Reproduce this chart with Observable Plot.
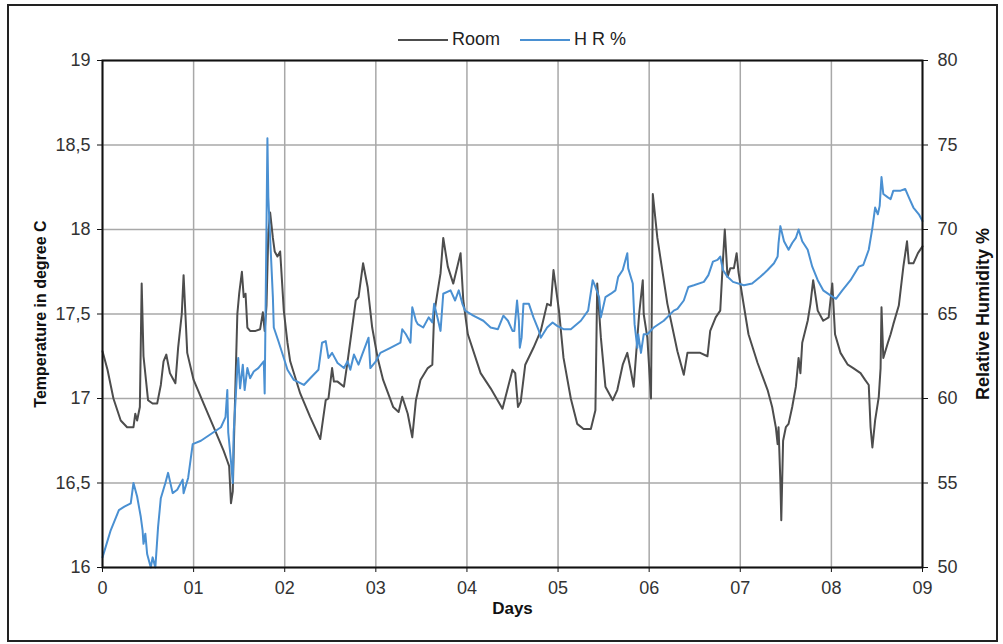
<!DOCTYPE html>
<html><head><meta charset="utf-8">
<script src="https://cdn.jsdelivr.net/npm/d3@7"></script>
<script src="https://cdn.jsdelivr.net/npm/@observablehq/plot@0.6"></script>
<style>
body{margin:0;background:#fff;font-family:"Liberation Sans",Arial,sans-serif;}
#wrap{position:relative;width:1003px;height:644px;overflow:hidden;background:#fff;}
#border{position:absolute;left:7px;top:4px;width:987px;height:634px;border:2px solid #222;}
#legend{position:absolute;top:29px;left:398px;display:flex;align-items:center;font-size:18px;color:#222;white-space:nowrap;}
.sw{display:inline-block;width:50px;height:2px;margin-right:4px;}
#chart{position:absolute;left:0;top:0;}
</style></head><body>
<div id="wrap"><div id="border"></div><div id="chart"></div>
<div id="legend"><span class="sw" style="background:#4d4d4d"></span><span>Room</span><span class="sw" style="background:#4a90d2;margin-left:20px"></span><span>H R %</span></div>
</div>
<script>
const roomDay = [0.00,0.055,0.12,0.20,0.27,0.34,0.36,0.38,0.41,0.43,0.45,0.50,0.55,0.60,0.64,0.67,0.70,0.74,0.77,0.80,0.83,0.87,0.89,0.91,0.93,1.00,1.11,1.22,1.33,1.37,1.39,1.41,1.43,1.44,1.46,1.48,1.50,1.53,1.55,1.57,1.59,1.62,1.68,1.73,1.76,1.78,1.80,1.82,1.84,1.87,1.89,1.92,1.95,1.99,2.03,2.06,2.17,2.28,2.39,2.45,2.48,2.52,2.54,2.58,2.65,2.69,2.74,2.78,2.81,2.86,2.91,2.96,3.02,3.08,3.19,3.25,3.29,3.35,3.40,3.44,3.49,3.57,3.62,3.64,3.68,3.71,3.74,3.79,3.85,3.93,3.96,4.01,4.15,4.26,4.39,4.50,4.53,4.56,4.59,4.64,4.73,4.81,4.88,4.92,4.95,5.01,5.06,5.14,5.21,5.28,5.36,5.41,5.43,5.47,5.52,5.60,5.65,5.71,5.76,5.80,5.83,5.89,5.93,5.94,5.98,6.02,6.04,6.09,6.20,6.31,6.38,6.42,6.45,6.56,6.64,6.67,6.73,6.78,6.81,6.83,6.86,6.89,6.93,6.96,6.98,7.03,7.09,7.19,7.30,7.35,7.39,7.41,7.42,7.44,7.45,7.47,7.50,7.53,7.57,7.61,7.64,7.66,7.68,7.74,7.77,7.80,7.85,7.91,7.97,8.01,8.04,8.10,8.18,8.24,8.32,8.37,8.41,8.43,8.45,8.48,8.52,8.54,8.55,8.57,8.62,8.65,8.68,8.74,8.79,8.83,8.85,8.90,8.95,9.00];
const roomTemp = [17.28,17.17,17.00,16.87,16.83,16.83,16.91,16.87,16.95,17.68,17.25,16.99,16.97,16.97,17.08,17.22,17.26,17.15,17.12,17.09,17.30,17.50,17.73,17.50,17.27,17.11,16.97,16.83,16.69,16.63,16.60,16.38,16.45,16.69,17.10,17.50,17.62,17.75,17.60,17.62,17.42,17.40,17.40,17.41,17.51,17.40,17.55,17.98,18.10,17.95,17.87,17.84,17.87,17.52,17.33,17.22,17.03,16.89,16.76,16.99,17.00,17.18,17.10,17.10,17.07,17.22,17.42,17.58,17.60,17.80,17.66,17.42,17.24,17.11,16.95,16.92,17.01,16.91,16.77,16.99,17.11,17.18,17.20,17.50,17.64,17.74,17.95,17.78,17.68,17.86,17.58,17.38,17.15,17.06,16.94,17.17,17.15,16.95,16.98,17.20,17.30,17.40,17.56,17.55,17.76,17.52,17.24,17.00,16.85,16.82,16.82,16.93,17.68,17.36,17.07,16.99,17.05,17.20,17.27,17.16,17.07,17.50,17.70,17.50,17.36,17.00,18.21,17.95,17.56,17.28,17.14,17.27,17.27,17.27,17.25,17.40,17.48,17.52,17.82,18.00,17.72,17.77,17.77,17.86,17.75,17.58,17.38,17.21,17.05,16.95,16.83,16.73,16.83,16.51,16.28,16.75,16.83,16.85,16.95,17.07,17.24,17.15,17.33,17.46,17.56,17.70,17.52,17.46,17.48,17.68,17.38,17.27,17.20,17.18,17.15,17.11,17.08,16.83,16.71,16.87,17.01,17.18,17.54,17.24,17.33,17.38,17.44,17.55,17.78,17.93,17.80,17.80,17.86,17.90];
const hrDay = [0.00,0.09,0.18,0.24,0.31,0.34,0.38,0.42,0.44,0.45,0.47,0.49,0.53,0.55,0.58,0.61,0.64,0.69,0.72,0.77,0.82,0.88,0.89,0.94,0.99,1.08,1.19,1.30,1.35,1.37,1.38,1.41,1.43,1.44,1.46,1.48,1.49,1.51,1.54,1.56,1.59,1.62,1.66,1.71,1.77,1.78,1.79,1.81,1.82,1.84,1.87,1.88,1.93,1.99,2.03,2.10,2.21,2.28,2.37,2.41,2.45,2.48,2.52,2.58,2.65,2.69,2.72,2.76,2.81,2.85,2.92,2.94,3.00,3.05,3.16,3.27,3.29,3.33,3.38,3.40,3.44,3.46,3.52,3.58,3.62,3.64,3.68,3.71,3.74,3.82,3.87,3.91,3.95,3.98,4.07,4.18,4.26,4.34,4.40,4.45,4.50,4.52,4.55,4.57,4.58,4.60,4.62,4.68,4.73,4.79,4.81,4.88,4.94,4.99,5.06,5.14,5.25,5.33,5.38,5.41,5.45,5.47,5.52,5.58,5.63,5.66,5.71,5.76,5.77,5.82,5.84,5.87,5.88,5.91,5.94,5.98,6.05,6.16,6.27,6.31,6.38,6.43,6.49,6.60,6.65,6.70,6.75,6.78,6.81,6.86,6.92,7.04,7.13,7.22,7.30,7.37,7.41,7.42,7.44,7.48,7.53,7.57,7.61,7.64,7.68,7.74,7.79,7.85,7.91,7.99,8.05,8.12,8.21,8.30,8.35,8.41,8.45,8.48,8.51,8.53,8.55,8.57,8.62,8.65,8.68,8.76,8.81,8.85,8.90,8.96,9.00];
const hrValue = [50.6,52.2,53.4,53.6,53.8,55.0,54.2,53.0,52.2,51.4,52.0,50.8,50.0,50.6,50.0,52.4,54.1,55.0,55.6,54.4,54.6,55.2,54.4,55.3,57.3,57.5,57.9,58.3,58.9,60.5,58.0,56.3,55.0,58.0,59.9,61.8,62.4,60.6,62.0,60.5,61.8,61.2,61.6,61.8,62.2,60.3,65.2,75.4,71.9,69.5,66.0,64.2,63.4,62.4,61.7,61.1,60.8,61.2,61.7,63.3,63.4,62.4,62.7,62.1,61.8,62.2,61.7,62.6,62.0,62.6,63.6,61.8,62.2,62.7,63.0,63.3,64.1,63.8,63.3,65.4,64.6,64.4,64.2,64.8,64.5,65.6,64.7,64.0,66.2,66.4,65.8,66.4,65.6,65.2,64.9,64.6,64.2,64.1,64.9,64.6,64.0,64.0,65.8,64.6,63.0,63.6,65.6,65.6,64.8,64.0,63.6,64.2,64.5,64.3,64.1,64.1,64.6,65.2,67.0,66.6,66.0,64.8,66.0,66.2,66.4,67.2,67.6,68.6,67.7,66.8,64.4,63.0,63.8,62.7,63.8,63.8,64.2,64.6,65.2,65.3,65.8,66.6,66.7,66.9,67.3,68.1,68.2,68.4,67.6,67.2,66.9,66.7,66.8,67.2,67.6,68.0,68.4,69.2,70.2,69.3,68.8,69.2,69.5,70.0,69.3,68.8,67.8,67.0,66.4,66.1,65.9,66.4,67.0,67.8,67.9,68.8,70.1,71.3,70.9,71.4,73.1,72.1,71.9,71.8,72.3,72.3,72.4,71.9,71.3,70.9,70.5];
const dayTicks = [0,1,2,3,4,5,6,7,8,9];
const dayLabels = ["0","01","02","03","04","05","06","07","08","09"];
const tempTicks = [16,16.5,17,17.5,18,18.5,19];
const tempLabels = ["16","16,5","17","17,5","18","18,5","19"];
const humTicks = [50,55,60,65,70,75,80];

// humidity (50–80 %) shares the temperature frame (16–19 °C)
const humToTemp = h => 16 + (h - 50) / 10;
const room = roomDay.map((d, i) => ({day: d, v: roomTemp[i]}));
const hr = hrDay.map((d, i) => ({day: d, v: humToTemp(hrValue[i])}));
const humTickPos = humTicks.map(humToTemp);

const chart = Plot.plot({
  width: 1003, height: 644,
  marginLeft: 102, marginRight: 81, marginTop: 60, marginBottom: 77,
  style: {fontFamily: "Liberation Sans, Arial, sans-serif", fontSize: "18px", color: "#333", background: "transparent", overflow: "visible"},
  x: {domain: [0, 9]},
  y: {domain: [16, 19]},
  marks: [
    Plot.gridX(dayTicks, {stroke: "#a8a8a8", strokeOpacity: 1, strokeWidth: 1.5}),
    Plot.gridY(tempTicks, {stroke: "#a8a8a8", strokeOpacity: 1, strokeWidth: 1.5}),
    Plot.line(room, {x: "day", y: "v", stroke: "#4d4d4d", strokeWidth: 2}),
    Plot.line(hr, {x: "day", y: "v", stroke: "#4a90d2", strokeWidth: 2}),
    Plot.frame({stroke: "#111", strokeWidth: 2}),
    Plot.axisX(dayTicks, {tickFormat: d => dayLabels[dayTicks.indexOf(d)], tickSize: 5, tickPadding: 9, label: null, stroke: "#111"}),
    Plot.axisY(tempTicks, {anchor: "left", tickFormat: d => tempLabels[tempTicks.indexOf(d)], tickSize: 5, tickPadding: 7, label: null, stroke: "#111"}),
    Plot.axisY(humTickPos, {anchor: "right", tickFormat: d => String(humTicks[humTickPos.indexOf(d)]), tickSize: 5, tickPadding: 10, label: null, stroke: "#111"}),
    Plot.text(["Temperature in degree C"], {text: d => d, frameAnchor: "left", textAnchor: "middle", dx: -62, rotate: -90, fontWeight: "bold", fontSize: 16, fill: "#111"}),
    Plot.text(["Relative Humidity %"], {text: d => d, frameAnchor: "right", textAnchor: "middle", dx: 61, rotate: -90, fontWeight: "bold", fontSize: 18, fill: "#111"}),
    Plot.text(["Days"], {text: d => d, frameAnchor: "bottom", dy: 46, fontWeight: "bold", fontSize: 17, fill: "#111"})
  ]
});
document.getElementById("chart").appendChild(chart);
</script>
</body></html>
